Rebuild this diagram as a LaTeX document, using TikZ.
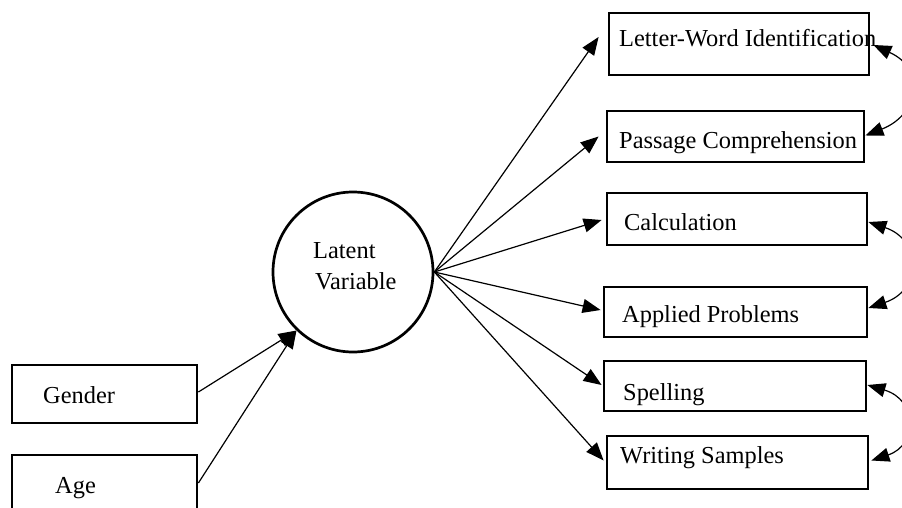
\documentclass[tikz,border=0pt]{standalone}
\usepackage{fontspec}
\setmainfont{Liberation Serif}
\usetikzlibrary{arrows.meta}
\begin{document}
\begin{tikzpicture}[x=1pt,y=-1pt,
  box/.style={draw,line width=2.8pt,rectangle,inner sep=0pt,line join=miter},
  lbl/.style={anchor=base west,inner sep=0pt,font=\fontsize{24.4}{28}\selectfont},
  conn/.style={line width=1.2pt,-{Triangle[length=18pt,width=14pt]}},
  cov/.style={line width=1.2pt,{Triangle[length=18pt,width=14pt]}-{Triangle[length=18pt,width=14pt]}}]
\useasboundingbox (0,0) rectangle (902,508);
\clip (0,0) rectangle (902,508);
% boxes
\node[box,minimum width=260pt,minimum height=62pt] (b1) at (739,44) {};
\node[box,minimum width=257pt,minimum height=51pt] (b2) at (735.5,136.5) {};
\node[box,minimum width=260pt,minimum height=52pt] (b3) at (737,219) {};
\node[box,minimum width=263pt,minimum height=50pt] (b4) at (735.5,312) {};
\node[box,minimum width=262pt,minimum height=50pt] (b5) at (735,386) {};
\node[box,minimum width=261pt,minimum height=53pt] (b6) at (737.5,462.5) {};
\node[box,minimum width=185pt,minimum height=58pt] (g) at (104.5,394) {};
\node[box,minimum width=185pt,minimum height=56pt] (a) at (104.5,483) {};
\node[circle,draw,line width=2.7pt,minimum size=160pt,inner sep=0pt] (lv) at (353,272) {};
% texts
\node[lbl] (t1) at (619,47) {Letter-Word Identification};
\node[lbl] (t2) at (619,149) {Passage Comprehension};
\node[lbl] (t3) at (624,230) {Calculation};
\node[lbl] (t4) at (622,322) {Applied Problems};
\node[lbl] (t5) at (623,400) {Spelling};
\node[lbl] (t6) at (620,463) {Writing Samples};
\node[lbl] (tg) at (43,403) {Gender};
\node[lbl] (ta) at (55,493) {Age};
\node[lbl] (tl1) at (313,258) {Latent};
\node[lbl] (tl2) at (315,289) {Variable};
% loadings
\draw[conn] (lv.east) -- ([xshift=-9pt,yshift=7pt]b1.west);
\draw[conn] (lv.east) -- ([xshift=-7pt]b2.west);
\draw[conn] (lv.east) -- ([xshift=-4pt,yshift=-1pt]b3.west);
\draw[conn] (lv.east) -- ([xshift=-2pt,yshift=2pt]b4.west);
\draw[conn] (lv.east) -- ([xshift=-1pt,yshift=1pt]b5.west);
\draw[conn] (lv.east) -- ([xshift=-2pt,yshift=2pt]b6.west);
% predictors
\draw[conn] ([yshift=2pt]g.east) -- (lv.226);
\draw[conn] (a.east) -- (lv.226);
% covariances
\draw[cov] ([xshift=3pt,yshift=-1pt]b1.east) .. controls (928,70) and (918,115) .. ([yshift=1pt]b2.east);
\draw[cov] ([yshift=-3pt]b3.east) .. controls (922,240) and (922,290) .. ([yshift=4pt]b4.east);
\draw[cov] ([yshift=1pt]b5.east) .. controls (918,400) and (918,445) .. ([xshift=2pt,yshift=2pt]b6.east);
\end{tikzpicture}
\end{document}
